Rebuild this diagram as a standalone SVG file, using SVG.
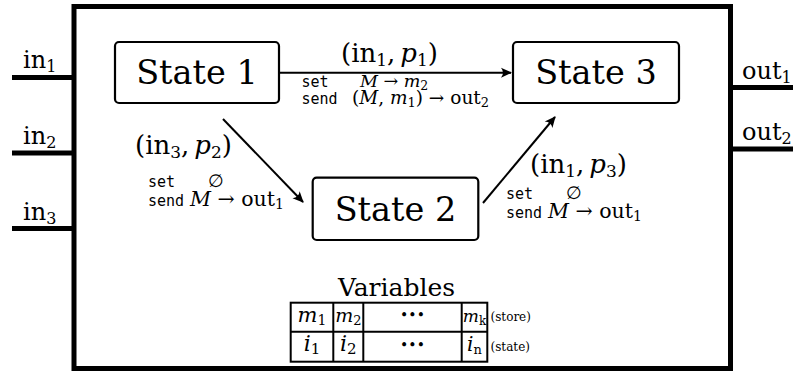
<svg xmlns="http://www.w3.org/2000/svg" width="800" height="371" viewBox="0 0 800 371">
<style>
.rm{font-family:'DejaVu Serif',serif;fill:#000}
.it{font-style:italic}
.tt{font-family:'DejaVu Sans Mono',monospace;fill:#000}
.st{font-family:'DejaVu Serif',serif;font-size:33.5px;text-anchor:middle;fill:#000}
.box{fill:#fff;stroke:#000;stroke-width:2.2}
.thick{stroke:#000;stroke-width:5;fill:none}
.edge{stroke:#000;stroke-width:2;fill:none;marker-end:url(#ah)}
.cell{stroke:#000;stroke-width:2;fill:none}
</style>
<defs>
<marker id="ah" viewBox="-12 -7 14 14" refX="0" refY="0" markerWidth="14" markerHeight="14" markerUnits="userSpaceOnUse" orient="auto">
<path d="M1,0 L-10,-5 Q-6,0 -10,5 Z" fill="#000"/>
</marker>
</defs>
<rect width="800" height="371" fill="#fff"/>

<g id="block">
<rect class="thick" x="74" y="6.5" width="656.5" height="362"/>
</g>

<g id="ports">
<line class="thick" x1="12" y1="77.5" x2="74" y2="77.5"/>
<line class="thick" x1="12" y1="153" x2="74" y2="153"/>
<line class="thick" x1="12" y1="228.5" x2="74" y2="228.5"/>
<line class="thick" x1="730.5" y1="87.5" x2="793" y2="87.5"/>
<line class="thick" x1="730.5" y1="149" x2="793" y2="149"/>
<text class="rm" x="23" y="68" font-size="24">in<tspan font-size="16" dy="4">1</tspan></text>
<text class="rm" x="23" y="143.5" font-size="24">in<tspan font-size="16" dy="4">2</tspan></text>
<text class="rm" x="23" y="219.5" font-size="24">in<tspan font-size="16" dy="4">3</tspan></text>
<text class="rm" x="742" y="79" font-size="24">out<tspan font-size="16" dy="4">1</tspan></text>
<text class="rm" x="742" y="140" font-size="24">out<tspan font-size="16" dy="4">2</tspan></text>
</g>

<g id="connectors">
<path id="e13" class="edge" d="M280,72.7 L511,72.7"/>
<path id="e12" class="edge" d="M223,119 L303,202"/>
<path id="e23" class="edge" d="M483,203 L555,117"/>
<text class="rm" x="341" y="62" font-size="26">(in<tspan font-size="17" dy="4">1</tspan><tspan dy="-4">,</tspan><tspan class="it" dx="5">p</tspan><tspan font-size="17" dy="4">1</tspan><tspan dy="-4">)</tspan></text>
<text class="tt" x="301.5" y="86.5" font-size="15">set</text>
<text class="rm" x="360" y="86.5" font-size="17.5"><tspan class="it">M</tspan> → <tspan class="it">m</tspan><tspan font-size="12.5" dy="3">2</tspan></text>
<text class="tt" x="301.5" y="104" font-size="15">send</text>
<text class="rm" x="352" y="104" font-size="18.5">(<tspan class="it">M</tspan>, <tspan class="it">m</tspan><tspan font-size="13" dy="3">1</tspan><tspan dy="-3">) → out</tspan><tspan font-size="13" dy="3">2</tspan></text>

<text class="rm" x="135" y="154" font-size="26">(in<tspan font-size="17" dy="4">3</tspan><tspan dy="-4">,</tspan><tspan class="it" dx="5">p</tspan><tspan font-size="17" dy="4">2</tspan><tspan dy="-4">)</tspan></text>
<text class="tt" x="148" y="187" font-size="15">set</text>
<text class="rm" x="208" y="187" font-size="18">∅</text>
<text class="tt" x="148" y="206" font-size="15">send</text>
<text class="rm" x="190" y="206" font-size="20.5"><tspan class="it">M</tspan> → out<tspan font-size="14" dy="3">1</tspan></text>

<text class="rm" x="530" y="173" font-size="26">(in<tspan font-size="17" dy="4">1</tspan><tspan dy="-4">,</tspan><tspan class="it" dx="5">p</tspan><tspan font-size="17" dy="4">3</tspan><tspan dy="-4">)</tspan></text>
<text class="tt" x="506" y="199" font-size="15">set</text>
<text class="rm" x="566" y="199" font-size="18">∅</text>
<text class="tt" x="506" y="218" font-size="15">send</text>
<text class="rm" x="548" y="218" font-size="20.5"><tspan class="it">M</tspan> → out<tspan font-size="14" dy="3">1</tspan></text>
</g>

<g id="state1">
<rect class="box" x="115" y="42" width="164" height="61" rx="4"/>
<text class="st" x="197" y="84">State 1</text>
</g>
<g id="state2">
<rect class="box" x="312.7" y="177.7" width="165.6" height="62.3" rx="4"/>
<text class="st" x="395.5" y="221">State 2</text>
</g>
<g id="state3">
<rect class="box" x="513" y="42" width="166" height="61" rx="4"/>
<text class="st" x="596" y="84">State 3</text>
</g>

<g id="variables">
<text class="rm" x="396.5" y="296" font-size="25" text-anchor="middle">Variables</text>
<rect class="cell" x="290.7" y="302.7" width="196.6" height="59" stroke-width="2.5"/>
<line class="cell" x1="290.7" y1="331.7" x2="487.3" y2="331.7"/>
<line class="cell" x1="333.3" y1="302.7" x2="333.3" y2="361.7"/>
<line class="cell" x1="363.3" y1="302.7" x2="363.3" y2="361.7"/>
<line class="cell" x1="461.7" y1="302.7" x2="461.7" y2="361.7"/>
<text class="rm" x="312" y="322" font-size="21" text-anchor="middle"><tspan class="it">m</tspan><tspan font-size="14" dy="3">1</tspan></text>
<text class="rm" x="348.3" y="322" font-size="19" text-anchor="middle"><tspan class="it">m</tspan><tspan font-size="13" dy="3">2</tspan></text>
<text class="rm" x="412.5" y="320" font-size="14" text-anchor="middle">•••</text>
<text class="rm" x="474.5" y="322" font-size="17" text-anchor="middle"><tspan class="it">m</tspan><tspan font-size="12" dy="3">k</tspan></text>
<text class="rm" x="312" y="351" font-size="22" text-anchor="middle"><tspan class="it">i</tspan><tspan font-size="15" dy="3">1</tspan></text>
<text class="rm" x="348.3" y="351" font-size="22" text-anchor="middle"><tspan class="it">i</tspan><tspan font-size="15" dy="3">2</tspan></text>
<text class="rm" x="412.5" y="350" font-size="14" text-anchor="middle">•••</text>
<text class="rm" x="474.5" y="351" font-size="20" text-anchor="middle"><tspan class="it">i</tspan><tspan font-size="13" dy="3">n</tspan></text>
<text class="rm" x="490.5" y="321" font-size="12">(store)</text>
<text class="rm" x="490.5" y="351" font-size="12">(state)</text>
</g>
</svg>
